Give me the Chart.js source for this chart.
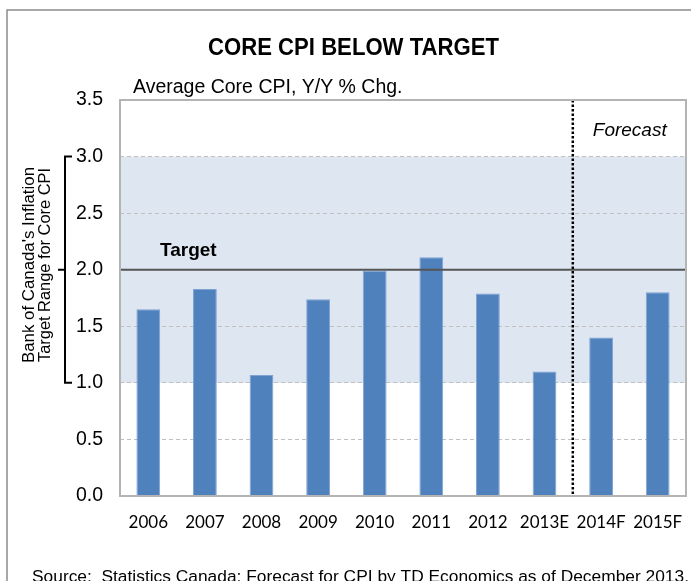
<!DOCTYPE html>
<html>
<head>
<meta charset="utf-8">
<script src="https://cdn.jsdelivr.net/npm/chart.js@4.4.1/dist/chart.umd.min.js"></script>
<style>
  html, body { margin: 0; padding: 0; background: #fff; overflow: hidden; }
  #wrap { width: 691px; height: 581px; }
</style>
</head>
<body>
<div id="wrap"><canvas id="cpi"></canvas></div>
<script>
var years = ['2006', '2007', '2008', '2009', '2010', '2011', '2012', '2013E', '2014F', '2015F'];
var coreCpi = [1.65, 1.83, 1.07, 1.74, 1.99, 2.11, 1.79, 1.10, 1.40, 1.80];
var targetRange = [1.0, 3.0];
var target = 2.0;
var forecastStart = '2014F';

var ctx = document.getElementById('cpi').getContext('2d');

// draw text squeezed/stretched to a given width (left aligned at x)
function fitText(c, txt, x, y, w) {
    var m = c.measureText(txt).width;
    c.save();
    c.translate(x, y);
    c.scale(w / m, 1);
    c.fillText(txt, 0, 0);
    c.restore();
}

var decorations = {
    id: 'decorations',
    beforeDraw: function (chart) {
        var c = chart.ctx, a = chart.chartArea, y = chart.scales.y;
        c.save();
        c.fillStyle = '#fff';
        c.fillRect(0, 0, chart.width, chart.height);
        // target band
        c.fillStyle = '#dee6f1';
        c.fillRect(a.left, y.getPixelForValue(targetRange[1]), a.right - a.left,
            y.getPixelForValue(targetRange[0]) - y.getPixelForValue(targetRange[1]));
        c.restore();
    },
    afterDatasetsDraw: function (chart) {
        var c = chart.ctx, a = chart.chartArea, y = chart.scales.y, x = chart.scales.x;
        c.save();
        // target line
        var ty = y.getPixelForValue(target);
        c.strokeStyle = '#555';
        c.lineWidth = 2;
        c.beginPath(); c.moveTo(a.left, ty); c.lineTo(a.right, ty); c.stroke();

        // forecast divider
        var i = years.indexOf(forecastStart);
        var fx = (x.getPixelForValue(i - 1) + x.getPixelForValue(i)) / 2;
        c.strokeStyle = '#000';
        c.lineWidth = 2.5;
        c.setLineDash([2.5, 2]);
        c.beginPath(); c.moveTo(fx, a.top); c.lineTo(fx, a.bottom); c.stroke();
        c.setLineDash([]);

        // plot border
        c.strokeStyle = '#b4b4b4';
        c.lineWidth = 2;
        c.strokeRect(a.left, a.top, a.right - a.left, a.bottom - a.top);

        // labels
        c.fillStyle = '#000';
        c.textBaseline = 'alphabetic';
        c.textAlign = 'left';
        c.font = 'bold 19px "Liberation Sans", Arial, sans-serif';
        c.fillText('Target', a.left + 40, ty - 14);
        c.font = 'italic 19px "Liberation Sans", Arial, sans-serif';
        c.fillText('Forecast', fx + 20, a.top + 36);

        // bracket for the range
        var b1 = y.getPixelForValue(targetRange[1]), b0 = y.getPixelForValue(targetRange[0]);
        c.strokeStyle = '#000';
        c.lineWidth = 2;
        c.beginPath();
        c.moveTo(72, b1); c.lineTo(65, b1); c.lineTo(65, b0); c.lineTo(72, b0);
        c.moveTo(58, ty); c.lineTo(65, ty);
        c.stroke();

        // rotated axis title
        c.save();
        c.translate(0, 363);
        c.rotate(-Math.PI / 2);
        c.font = '16.5px "Liberation Sans", Arial, sans-serif';
        fitText(c, "Bank of Canada's Inflation", 0, 34, 196);
        fitText(c, 'Target Range for Core CPI', 1, 50, 194);
        c.restore();

        // title, subtitle, source
        c.font = 'bold 23.5px "Liberation Sans", Arial, sans-serif';
        fitText(c, 'CORE CPI BELOW TARGET', 208, 55, 291);
        c.font = '19.5px "Liberation Sans", Arial, sans-serif';
        c.fillText('Average Core CPI, Y/Y % Chg.', 133, 93);
        c.font = '17.4px "Liberation Sans", Arial, sans-serif';
        fitText(c, 'Source:  Statistics Canada; Forecast for CPI by TD Economics as of December 2013.', 32, 582, 657);

        // outer frame
        c.strokeStyle = '#8c8c8c';
        c.lineWidth = 1.5;
        c.beginPath(); c.moveTo(7, 581); c.lineTo(7, 10); c.lineTo(691, 10); c.stroke();
        c.restore();
    }
};

var myChart = new Chart(ctx, {
    type: 'bar',
    data: {
        labels: years,
        datasets: [{
            data: coreCpi,
            backgroundColor: '#4f81bd',
            borderColor: '#7ea3d3',
            borderWidth: 1,
            barPercentage: 0.42,
            categoryPercentage: 1.0
        }]
    },
    options: {
        responsive: true,
        maintainAspectRatio: false,
        animation: false,
        events: [],
        layout: { padding: { top: 100, right: 5, left: 0, bottom: 0 } },
        plugins: { legend: { display: false }, tooltip: { enabled: false } },
        scales: {
            x: {
                grid: { display: false, drawTicks: false },
                border: { display: false },
                ticks: { color: '#000', padding: 16, font: { family: 'Lato', size: 17 }, maxRotation: 0, autoSkip: false },
                afterFit: function (s) { s.height = 85; s.paddingLeft = 0; s.paddingRight = 0; }
            },
            y: {
                min: 0, max: 3.5,
                grid: { color: '#c0c0c0', drawTicks: false },
                border: { display: false, dash: [4, 3] },
                ticks: {
                    stepSize: 0.5, color: '#000', padding: 17,
                    font: { family: '"Liberation Sans", Arial', size: 19.5 },
                    callback: function (v) { return v.toFixed(1); }
                },
                afterFit: function (s) { s.width = 120; s.paddingTop = 0; s.paddingBottom = 0; }
            }
        }
    },
    plugins: [decorations]
});
</script>
</body>
</html>
